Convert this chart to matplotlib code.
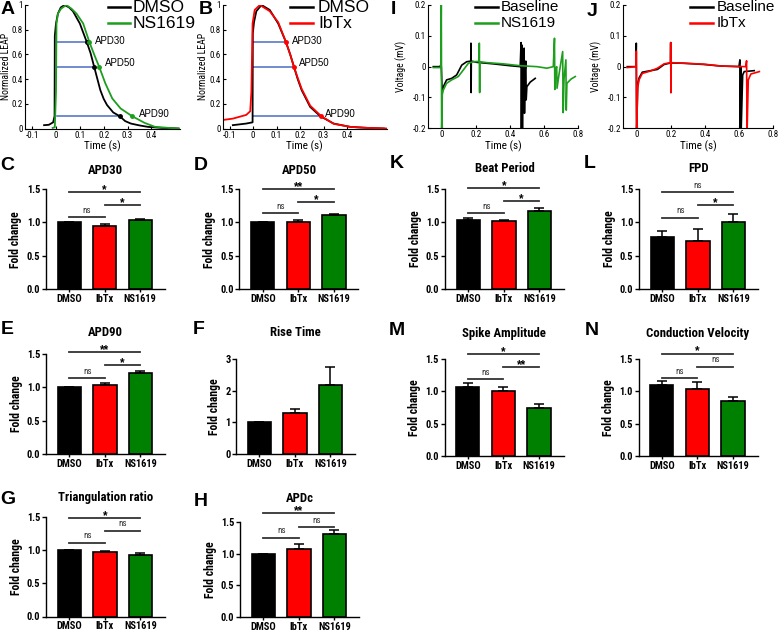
import numpy as np
import matplotlib.pyplot as plt
from matplotlib.lines import Line2D
from matplotlib.ticker import FormatStrFormatter

plt.rcParams['font.family'] = ['Liberation Sans', 'DejaVu Sans']
NARROW = ['Arial Narrow', 'Liberation Sans Narrow', 'Roboto Condensed', 'PT Sans Narrow',
          'Archivo Narrow', 'Liberation Sans']

# ---- optical AP traces (A, B) ----
a_dmso_t = [-0.05, -0.03, -0.012, -0.006, -0.005, 0.0, 0.008, 0.02, 0.036, 0.055, 0.071, 0.1, 0.129,
            0.145, 0.16, 0.175, 0.186, 0.2, 0.214, 0.24, 0.267, 0.29, 0.314, 0.35, 0.386, 0.443, 0.514]
a_dmso_v = [0.027, 0.03, 0.05, 0.1, 0.75, 0.85, 0.93, 0.98, 1.0, 0.98, 0.95, 0.85, 0.70,
            0.61, 0.50, 0.39, 0.31, 0.24, 0.19, 0.13, 0.10, 0.06, 0.04, 0.025, 0.013, 0.005, 0.0]
a_ns_t = [-0.014, -0.005, 0.0, 0.002, 0.008, 0.021, 0.043, 0.065, 0.086, 0.114, 0.14, 0.164, 0.181,
          0.207, 0.236, 0.271, 0.319, 0.371, 0.414, 0.471, 0.514]
a_ns_v = [0.005, 0.01, 0.3, 0.85, 0.93, 0.97, 1.0, 0.97, 0.93, 0.85, 0.70, 0.58, 0.50,
          0.365, 0.243, 0.162, 0.10, 0.046, 0.014, 0.005, 0.0]
a_dmso_apd = [0.129, 0.16, 0.267]
a_ns_apd = [0.14, 0.181, 0.319]

b_dmso_t = [-0.086, -0.029, -0.002, -0.001, 0.004, 0.014, 0.036, 0.071, 0.107, 0.14, 0.158, 0.174,
            0.19, 0.207, 0.243, 0.286, 0.343, 0.414, 0.486, 0.557]
b_dmso_v = [0.027, 0.04, 0.05, 0.77, 0.86, 0.95, 1.0, 0.96, 0.85, 0.70, 0.60, 0.50,
            0.40, 0.31, 0.175, 0.10, 0.04, 0.013, 0.005, 0.0]
b_ibtx_t = [-0.136, -0.086, -0.029, -0.012, -0.007, -0.002, 0.007, 0.029, 0.071, 0.107, 0.14, 0.158,
            0.174, 0.19, 0.207, 0.243, 0.29, 0.343, 0.414, 0.486, 0.571]
b_ibtx_v = [0.067, 0.08, 0.11, 0.14, 0.3, 0.85, 0.96, 1.0, 0.95, 0.86, 0.70, 0.60,
            0.50, 0.41, 0.32, 0.185, 0.10, 0.038, 0.013, 0.005, 0.0]
b_ibtx_apd = [0.14, 0.174, 0.29]
apd_levels = [0.7, 0.5, 0.1]

# ---- field potential traces (I, J) ----
i_base_t = [-0.049, -0.01, -0.005, -0.002, 0.003, 0.01, 0.029, 0.059, 0.088, 0.118, 0.147, 0.171,
            0.172, 0.173, 0.174, 0.206, 0.304, 0.402, 0.461, 0.466, 0.468, 0.471, 0.474, 0.477,
            0.484, 0.486, 0.489, 0.494, 0.496, 0.5, 0.52, 0.549]
i_base_v = [0.0, 0.0, 0.005, 0.0, -0.08, -0.065, -0.043, -0.038, -0.027, 0.005, 0.016, 0.018,
            0.076, -0.084, 0.018, 0.014, 0.009, 0.003, 0.0, 0.078, -0.21, 0.07, -0.21, -0.02,
            0.06, -0.151, -0.02, 0.018, -0.108, -0.065, -0.05, -0.038]
i_ns_t = [-0.049, -0.005, -0.002, 0.0, 0.004, 0.01, 0.029, 0.059, 0.098, 0.127, 0.157, 0.186, 0.22,
          0.221, 0.223, 0.224, 0.265, 0.363, 0.461, 0.559, 0.618, 0.655, 0.662, 0.664, 0.668,
          0.675, 0.677, 0.69, 0.71, 0.713, 0.718, 0.729, 0.731, 0.735, 0.76, 0.784]
i_ns_v = [-0.003, -0.003, 0.21, -0.21, -0.09, -0.076, -0.054, -0.043, -0.032, -0.011, 0.011, 0.016, 0.017,
          0.076, -0.084, 0.016, 0.013, 0.009, 0.003, 0.0, -0.005, 0.0, 0.092, -0.074, -0.01,
          0.0, -0.07, -0.02, 0.049, -0.149, -0.04, 0.022, -0.141, -0.054, -0.04, -0.032]

j_base_t = [-0.055, -0.005, -0.002, 0.0, 0.006, 0.014, 0.033, 0.082, 0.122, 0.161, 0.199, 0.2, 0.201,
            0.202, 0.278, 0.396, 0.494, 0.6, 0.606, 0.608, 0.611, 0.613, 0.622, 0.631, 0.69]
j_base_v = [0.0, 0.0, 0.076, -0.21, -0.06, -0.037, -0.018, -0.013, -0.009, 0.007, 0.012, 0.078, -0.084,
            0.012, 0.011, 0.007, 0.002, 0.0, 0.022, -0.21, 0.0, -0.21, -0.027, -0.016, -0.013]
j_ibtx_t = [-0.055, -0.004, -0.002, 0.0, 0.006, 0.014, 0.033, 0.082, 0.122, 0.161, 0.199, 0.2, 0.201,
            0.202, 0.278, 0.396, 0.494, 0.64, 0.645, 0.648, 0.655, 0.67, 0.72]
j_ibtx_v = [-0.003, 0.0, 0.05, -0.21, -0.07, -0.043, -0.022, -0.014, -0.005, 0.009, 0.013, 0.078, -0.084,
            0.013, 0.011, 0.008, 0.002, 0.0, 0.019, -0.21, -0.043, -0.024, -0.016]

# ---- bar data (DMSO, IbTx, NS1619) ----
groups = ['DMSO', 'IbTx', 'NS1619']
apd30_mean = [1.0, 0.95, 1.04]
apd30_err = [0.0, 0.03, 0.015]
apd50_mean = [1.0, 1.01, 1.11]
apd50_err = [0.0, 0.02, 0.015]
apd90_mean = [1.0, 1.04, 1.21]
apd90_err = [0.0, 0.03, 0.04]
rise_mean = [1.0, 1.28, 2.18]
rise_err = [0.0, 0.15, 0.57]
tri_mean = [1.0, 0.97, 0.92]
tri_err = [0.0, 0.015, 0.03]
apdc_mean = [1.0, 1.08, 1.31]
apdc_err = [0.0, 0.08, 0.06]
beat_mean = [1.03, 1.02, 1.17]
beat_err = [0.03, 0.015, 0.05]
fpd_mean = [0.78, 0.72, 1.01]
fpd_err = [0.09, 0.18, 0.11]
spike_mean = [1.07, 1.0, 0.75]
spike_err = [0.06, 0.06, 0.06]
cv_mean = [1.10, 1.04, 0.85]
cv_err = [0.06, 0.11, 0.07]

# significance brackets: (from, to, height, label)
apd30_sig = [(0, 1, 1.08, 'ns'), (1, 2, 1.26, '*'), (0, 2, 1.45, '*')]
apd50_sig = [(0, 1, 1.14, 'ns'), (1, 2, 1.30, '*'), (0, 2, 1.50, '**')]
apd90_sig = [(0, 1, 1.14, 'ns'), (1, 2, 1.33, '*'), (0, 2, 1.53, '**')]
tri_sig = [(0, 1, 1.11, 'ns'), (1, 2, 1.29, 'ns'), (0, 2, 1.48, '*')]
apdc_sig = [(0, 1, 1.25, 'ns'), (1, 2, 1.42, 'ns'), (0, 2, 1.64, '**')]
beat_sig = [(0, 1, 1.14, 'ns'), (1, 2, 1.32, '*'), (0, 2, 1.51, '*')]
fpd_sig = [(0, 1, 1.07, 'ns'), (1, 2, 1.26, '*'), (0, 2, 1.45, 'ns')]
spike_sig = [(0, 1, 1.19, 'ns'), (1, 2, 1.37, '**'), (0, 2, 1.57, '*')]
cv_sig = [(0, 1, 1.20, 'ns'), (1, 2, 1.38, 'ns'), (0, 2, 1.58, '*')]

W, H = 779, 633
fig = plt.figure(figsize=(W / 100, H / 100), dpi=100)

GREEN = '#1e9e1e'
BARGREEN = '#008000'
RED = '#ff0000'
BLUE = '#4a6cc0'


def box(l, t, r, b):
    return fig.add_axes([l / W, 1 - b / H, (r - l) / W, (b - t) / H])


def px(x, y):
    return x / W, 1 - y / H


def letter(s, x, y):
    fig.text(*px(x, y), s, fontsize=14, fontweight='bold', ha='center', va='center')


def legend(x0, x1, xt, rows, size):
    for y, lab, c in rows:
        fig.add_artist(Line2D([x0 / W, x1 / W], [1 - y / H, 1 - y / H], color=c, lw=1.8))
        fig.text(*px(xt, y + 0.36 * size), lab, fontsize=size, va='baseline', ha='left')


def trace_style(ax, ylabel, lab_x):
    ax.spines['top'].set_visible(False)
    ax.spines['right'].set_visible(False)
    ax.tick_params(direction='in', length=2.5, width=0.8, labelsize=6.5, pad=1.5)
    for lab in ax.get_xticklabels() + ax.get_yticklabels():
        lab.set_family(NARROW)
    ax.xaxis.set_major_formatter(FormatStrFormatter('%g'))
    ax.yaxis.set_major_formatter(FormatStrFormatter('%g'))
    ax.set_xlabel('Time (s)', fontsize=8, family=NARROW, labelpad=1)
    ax.set_ylabel(ylabel, fontsize=7, family=NARROW)
    ax.yaxis.set_label_coords(lab_x, 0.5)


# ---- A ----
ax = box(25, 5, 180, 128.5)
ax.plot(a_dmso_t, a_dmso_v, color='black', lw=1.3)
ax.plot(a_ns_t, a_ns_v, color=GREEN, lw=1.3)
for lev, xd in zip(apd_levels, a_dmso_apd):
    ax.plot([0.003, xd], [lev, lev], color=BLUE, lw=1.1, zorder=1)
ax.plot(a_dmso_apd, apd_levels, 'o', color='black', ms=2.5)
ax.plot(a_ns_apd, apd_levels, 'o', color=GREEN, ms=2.5)
ax.text(0.162, 0.71, 'APD30', fontsize=7, va='center')
ax.text(0.204, 0.527, 'APD50', fontsize=7, va='center')
ax.text(0.349, 0.12, 'APD90', fontsize=7, va='center')
ax.set_xlim(-0.13, 0.52)
ax.set_ylim(0, 1)
ax.set_xticks([-0.1, 0, 0.1, 0.2, 0.3, 0.4])
ax.set_yticks([0, 0.2, 0.4, 0.6, 0.8, 1])
trace_style(ax, 'Normalized LEAP', -0.088)
legend(108, 130, 133, [(7, 'DMSO', 'black'), (23, 'NS1619', GREEN)], 12.5)

# ---- B ----
ax = box(222.5, 5, 387, 128.5)
ax.plot(b_dmso_t, b_dmso_v, color='black', lw=1.3)
ax.plot(b_ibtx_t, b_ibtx_v, color=RED, lw=1.3)
for lev, xr in zip(apd_levels, b_ibtx_apd):
    ax.plot([0.0, xr], [lev, lev], color=BLUE, lw=1.1, zorder=1)
ax.plot(b_ibtx_apd, apd_levels, 'o', color=RED, ms=2.5)
ax.text(0.165, 0.71, 'APD30', fontsize=7, va='center')
ax.text(0.196, 0.527, 'APD50', fontsize=7, va='center')
ax.text(0.306, 0.12, 'APD90', fontsize=7, va='center')
ax.set_xlim(-0.13, 0.57)
ax.set_ylim(0, 1)
ax.set_xticks([-0.1, 0, 0.1, 0.2, 0.3, 0.4])
ax.set_yticks([0, 0.2, 0.4, 0.6, 0.8, 1])
trace_style(ax, 'Normalized LEAP', -0.088)
legend(290, 313, 318, [(7, 'DMSO', 'black'), (23, 'IbTx', RED)], 12.5)

# ---- I ----
ax = box(428, 5, 578, 128.3)
ax.plot(i_base_t, i_base_v, color='black', lw=1.2)
ax.plot(i_ns_t, i_ns_v, color=GREEN, lw=1.2)
ax.set_xlim(-0.08, 0.8)
ax.set_ylim(-0.2, 0.2)
ax.set_xticks([0, 0.2, 0.4, 0.6, 0.8])
ax.set_yticks([-0.2, -0.1, 0, 0.1, 0.2])
trace_style(ax, 'Voltage (mV)', -0.14)
legend(475, 498, 501, [(7, 'Baseline', 'black'), (23, 'NS1619', GREEN)], 11)

# ---- J ----
ax = box(623, 5, 773, 128.3)
ax.plot(j_base_t, j_base_v, color='black', lw=1.2)
ax.plot(j_ibtx_t, j_ibtx_v, color=RED, lw=1.2)
ax.set_xlim(-0.08, 0.8)
ax.set_ylim(-0.2, 0.2)
ax.set_xticks([0, 0.2, 0.4, 0.6, 0.8])
ax.set_yticks([-0.2, -0.1, 0, 0.1, 0.2])
trace_style(ax, 'Voltage (mV)', -0.14)
legend(690, 713, 717, [(7, 'Baseline', 'black'), (23, 'IbTx', RED)], 11)


def bar_panel(l, t, b, title, title_y, means, errs, sigs, ymax=1.5, yticks=(0, 0.5, 1.0, 1.5), fmt='%.1f'):
    r = l + 119
    ax = box(l, t, r, b)
    x = np.arange(3)
    ax.bar(x, means, width=0.65, color=['black', RED, BARGREEN], edgecolor='black', linewidth=1.2, zorder=2)
    ax.errorbar(x, means, yerr=[np.zeros(3), errs], fmt='none', ecolor='black',
                elinewidth=1.1, capsize=3.5, capthick=1.1, zorder=3)
    ax.set_xlim(-0.66, 2.69)
    ax.set_ylim(0, ymax)
    ax.set_yticks(yticks)
    ax.yaxis.set_major_formatter(FormatStrFormatter(fmt))
    ax.set_xticks(x)
    ax.set_xticklabels(groups, fontweight='bold', fontsize=7.5, family=NARROW)
    for lab in ax.get_yticklabels():
        lab.set_fontweight('bold')
        lab.set_family(NARROW)
    ax.tick_params(axis='y', labelsize=7.5, length=3, width=1, pad=1)
    ax.tick_params(axis='x', length=2.5, width=1, pad=0.8)
    for s in ['top', 'right']:
        ax.spines[s].set_visible(False)
    for s in ['left', 'bottom']:
        ax.spines[s].set_linewidth(1.0)
    ax.set_ylabel('Fold change', fontsize=8.5, fontweight='bold', family=NARROW, labelpad=3)
    for i, j, h, lab in sigs:
        ax.plot([i, j], [h, h], color='#333333', lw=1.3, clip_on=False)
        if lab == 'ns':
            ax.annotate(lab, ((i + j) / 2, h), xytext=(0, 3.2), textcoords='offset points',
                        ha='center', va='baseline', fontsize=6.5, family=NARROW, color='#333333',
                        annotation_clip=False)
        else:
            ax.annotate(lab, ((i + j) / 2, h), xytext=(0, -0.5), textcoords='offset points',
                        ha='center', va='baseline', fontsize=8.5, fontweight='bold', annotation_clip=False)
    fig.text(*px((l + r) / 2, title_y), title, fontsize=9.2, fontweight='bold', family=NARROW,
             ha='center', va='center')
    return ax


bar_panel(45.7, 189, 289.3, 'APD30', 170, apd30_mean, apd30_err, apd30_sig)
bar_panel(239.5, 189, 289.3, 'APD50', 170, apd50_mean, apd50_err, apd50_sig)
bar_panel(46, 354, 454, 'APD90', 333, apd90_mean, apd90_err, apd90_sig)
bar_panel(236, 359, 454, 'Rise Time', 333, rise_mean, rise_err, [], ymax=3, yticks=(0, 1, 2, 3), fmt='%d')
bar_panel(46, 517, 616.5, 'Triangulation ratio', 498, tri_mean, tri_err, tri_sig)
bar_panel(240, 522, 617, 'APDc', 499, apdc_mean, apdc_err, apdc_sig)
bar_panel(445, 189, 289, 'Beat Period', 169, beat_mean, beat_err, beat_sig)
bar_panel(639, 189, 289, 'FPD', 169, fpd_mean, fpd_err, fpd_sig)
bar_panel(444.5, 359, 456, 'Spike Amplitude', 333, spike_mean, spike_err, spike_sig)
bar_panel(638.5, 359, 456, 'Conduction Velocity', 333, cv_mean, cv_err, cv_sig)

for s, x, y in [('A', 7.5, 10), ('B', 206, 10), ('I', 393, 10), ('J', 592, 12),
                ('C', 7.5, 165), ('D', 201, 165), ('K', 397, 163), ('L', 590, 163),
                ('E', 7, 329), ('F', 199, 329), ('M', 397, 330), ('N', 592, 330),
                ('G', 7.5, 500), ('H', 201, 502)]:
    letter(s, x, y)

fig.savefig('out.png', dpi=100)
